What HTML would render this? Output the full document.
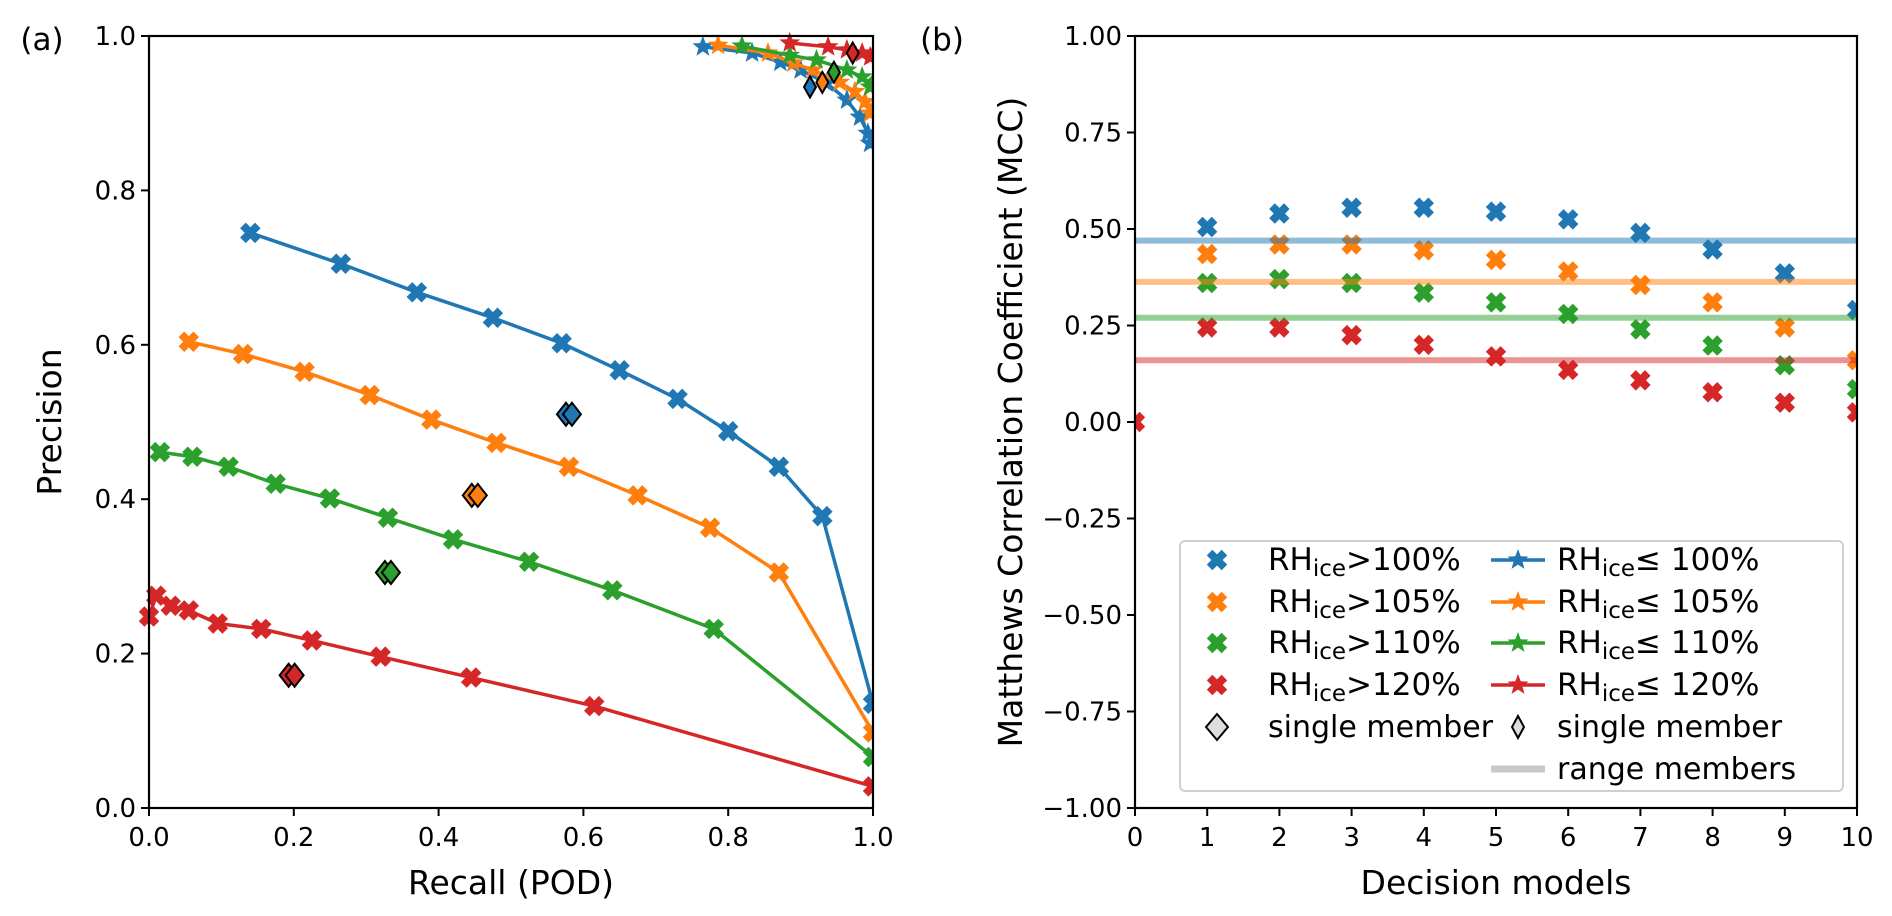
<!DOCTYPE html>
<html><head><meta charset="utf-8"><style>
body{margin:0;background:#fff}
svg{display:block;font-family:"DejaVu Sans","Liberation Sans",sans-serif}
</style></head><body>
<svg id="fig" width="1892" height="916" viewBox="0 0 1892 916" xmlns="http://www.w3.org/2000/svg">
<g id="pa"></g>
<g id="pb"></g>
</svg>
<script>
// ---------- Panel (a) data ----------
const colors = ['#1f77b4','#ff7f0e','#2ca02c','#d62728'];
const seriesNames = ['rh100','rh105','rh110','rh120'];
const recallBlue   = [0.14,0.265,0.37,0.475,0.57,0.65,0.73,0.80,0.87,0.93,1.0];
const precBlue     = [0.745,0.705,0.668,0.635,0.602,0.567,0.53,0.488,0.442,0.378,0.135];
const recallOrange = [0.055,0.13,0.215,0.305,0.39,0.48,0.58,0.675,0.775,0.87,1.0];
const precOrange   = [0.604,0.588,0.565,0.535,0.503,0.473,0.442,0.405,0.363,0.305,0.098];
const recallGreen  = [0.015,0.06,0.11,0.175,0.25,0.33,0.42,0.525,0.64,0.78,1.0];
const precGreen    = [0.461,0.455,0.442,0.42,0.401,0.376,0.348,0.319,0.282,0.232,0.066];
const recallRed    = [0.0,0.01,0.03,0.055,0.095,0.155,0.225,0.32,0.445,0.615,1.0];
const precRed      = [0.248,0.275,0.262,0.256,0.239,0.232,0.217,0.196,0.169,0.132,0.028];
const singleRecall = [0.58,0.45,0.33,0.197];
const singlePrec   = [0.51,0.405,0.305,0.172];
const starRecallBlue   = [0.765,0.833,0.872,0.90,0.936,0.964,0.982,0.993,0.996,1.0];
const starPrecBlue     = [0.986,0.978,0.966,0.956,0.939,0.917,0.895,0.874,0.861,0.87];
const starRecallOrange = [0.786,0.855,0.89,0.917,0.954,0.975,0.989,0.996,1.0];
const starPrecOrange   = [0.988,0.978,0.965,0.956,0.94,0.928,0.915,0.9,0.905];
const starRecallGreen  = [0.819,0.885,0.922,0.964,0.985,0.996,1.0];
const starPrecGreen    = [0.987,0.975,0.969,0.956,0.947,0.934,0.94];
const starRecallRed    = [0.885,0.938,0.964,0.985,0.996,1.0];
const starPrecRed      = [0.991,0.986,0.982,0.978,0.973,0.975];
const memberRecall = [0.913,0.93,0.946,0.972];
const memberPrec   = [0.934,0.94,0.953,0.978];
const aTicks = [0,0.2,0.4,0.6,0.8,1.0];
const aTickLabels = ['0.0','0.2','0.4','0.6','0.8','1.0'];
// ---------- Panel (b) data ----------
const models = [1,2,3,4,5,6,7,8,9,10];
const mccBlue   = [0.505,0.54,0.555,0.555,0.545,0.525,0.49,0.447,0.385,0.29];
const mccOrange = [0.435,0.46,0.46,0.445,0.42,0.39,0.355,0.31,0.245,0.16];
const mccGreen  = [0.36,0.37,0.36,0.335,0.31,0.28,0.24,0.198,0.147,0.085];
const mccRed    = [0.245,0.245,0.225,0.2,0.17,0.135,0.108,0.077,0.05,0.025];
const mccZero   = [0.0];
const rangeLevels = [0.47,0.363,0.27,0.16];
const bYTicks = [1,0.75,0.5,0.25,0,-0.25,-0.5,-0.75,-1];
const bYTickLabels = ['1.00','0.75','0.50','0.25','0.00','\u22120.25','\u22120.50','\u22120.75','\u22121.00'];
const bXTicks = [0,1,2,3,4,5,6,7,8,9,10];

const NS='http://www.w3.org/2000/svg';
function mk(parent,tag,attrs){const e=document.createElementNS(NS,tag);for(const k in attrs)e.setAttribute(k,attrs[k]);parent.appendChild(e);return e;}

const A={x0:149,x1:873,y0:808,y1:36};
const ax=v=>A.x0+v*(A.x1-A.x0);
const ay=v=>A.y0-v*(A.y0-A.y1);
const B={x0:1135,x1:1857,y0:808,y1:36};
const bx=v=>B.x0+v/10*(B.x1-B.x0);
const by=v=>B.y0-(v+1)/2*(B.y0-B.y1);

function crossPath(cx,cy,s){const d=s/2,w=s*0.19;
 const base=[[-w,-d],[w,-d],[w,-w],[d,-w],[d,w],[w,w],[w,d],[-w,d],[-w,w],[-d,w],[-d,-w],[-w,-w]];
 const c=Math.SQRT1_2;
 return 'M'+base.map(([x,y])=>[(x-y)*c+cx,(x+y)*c+cy].map(n=>n.toFixed(1)).join(',')).join('L')+'Z';}
function starPath(cx,cy,r){let s='';for(let i=0;i<10;i++){const rr=i%2?r*0.42:r;const t=-Math.PI/2+i*Math.PI/5;s+=(i?'L':'M')+(cx+rr*Math.cos(t)).toFixed(1)+','+(cy+rr*Math.sin(t)).toFixed(1);}return s+'Z';}
function diamond(cx,cy,w,h){return `M${cx},${cy-h/2}L${cx+w/2},${cy}L${cx},${cy+h/2}L${cx-w/2},${cy}Z`;}

function axesFrame(g,F,name){
 const r=mk(g,'rect',{x:F.x0,y:F.y1,width:F.x1-F.x0,height:F.y0-F.y1,fill:'none',stroke:'#000','stroke-width':2.2});
 
 
}
function txt(g,x,y,s,size,anchor,name,extra){const t=mk(g,'text',Object.assign({x:x,y:y,'font-size':size,'text-anchor':anchor||'middle',fill:'#000'},extra||{}));t.textContent=s;
 
 return t;}

// ---------- Panel (a) ----------
const pa=document.getElementById('pa');
const aRec=[recallBlue,recallOrange,recallGreen,recallRed];
const aPre=[precBlue,precOrange,precGreen,precRed];
const sRec=[starRecallBlue,starRecallOrange,starRecallGreen,starRecallRed];
const sPre=[starPrecBlue,starPrecOrange,starPrecGreen,starPrecRed];
const clipA=mk(pa,'clipPath',{id:'clipA'});mk(clipA,'rect',{x:A.x0-12,y:A.y1-12,width:A.x1-A.x0+13,height:A.y0-A.y1+24});
const plotA=mk(pa,'g',{'clip-path':'url(#clipA)'});
for(let s=0;s<4;s++){
 const gs=mk(plotA,'g',{});
 
 
 mk(gs,'polyline',{points:aRec[s].map((v,i)=>ax(v)+','+ay(aPre[s][i])).join(' '),fill:'none',stroke:colors[s],'stroke-width':3.5});
 aRec[s].forEach((v,i)=>{const m=mk(gs,'path',{d:crossPath(ax(v),ay(aPre[s][i]),21),fill:colors[s]});
  
  });
}
for(let s=0;s<4;s++){
 const gs=mk(plotA,'g',{});
 
 
 mk(gs,'polyline',{points:sRec[s].map((v,i)=>ax(v)+','+ay(sPre[s][i])).join(' '),fill:'none',stroke:colors[s],'stroke-width':3.5});
 sRec[s].forEach((v,i)=>{const m=mk(gs,'path',{d:starPath(ax(v),ay(sPre[s][i]),11),fill:colors[s]});
  
  });
}
for(let s=0;s<4;s++){
 [-3,3].forEach(o=>{const m=mk(plotA,'path',{d:diamond(ax(singleRecall[s])+o,ay(singlePrec[s]),18,23),fill:colors[s],stroke:'#000','stroke-width':2});
  
  });
 const m2=mk(plotA,'path',{d:diamond(ax(memberRecall[s]),ay(memberPrec[s]),12,21),fill:colors[s],stroke:'#000','stroke-width':2});
 
 
}
axesFrame(pa,A,'panel-a');
aTicks.forEach((v,i)=>{
 mk(pa,'line',{x1:ax(v),x2:ax(v),y1:A.y0,y2:A.y0+8,stroke:'#000','stroke-width':2});
 txt(pa,ax(v),A.y0+38,aTickLabels[i],26,'middle','x-tick-label');
 mk(pa,'line',{x1:A.x0-8,x2:A.x0,y1:ay(v),y2:ay(v),stroke:'#000','stroke-width':2});
 txt(pa,A.x0-13,ay(v)+9,aTickLabels[i],26,'end','y-tick-label');
});
txt(pa,511,894,'Recall (POD)',33,'middle','x-axis-title');
txt(pa,61,422,'Precision',33,'middle','y-axis-title',{transform:'rotate(-90 61 422)'});
txt(pa,42,50,'(a)',31,'middle','panel-a-label');

// ---------- Panel (b) ----------
const pb=document.getElementById('pb');
const mccs=[mccBlue,mccOrange,mccGreen,mccRed];
const clipB=mk(pb,'clipPath',{id:'clipB'});mk(clipB,'rect',{x:B.x0,y:B.y1,width:B.x1-B.x0,height:B.y0-B.y1});
const plotB=mk(pb,'g',{'clip-path':'url(#clipB)'});
mccZero.forEach(v=>{const m=mk(plotB,'path',{d:crossPath(bx(0),by(v),21),fill:colors[3]});
 
 });
for(let s=0;s<4;s++){
 models.forEach((v,i)=>{const m=mk(plotB,'path',{d:crossPath(bx(v),by(mccs[s][i]),21),fill:colors[s]});
  
  });
}
for(let s=0;s<4;s++){
 const l=mk(plotB,'line',{x1:B.x0,x2:B.x1,y1:by(rangeLevels[s]),y2:by(rangeLevels[s]),stroke:colors[s],'stroke-width':6,'stroke-opacity':0.5});
 
 
}
axesFrame(pb,B,'panel-b');
bYTicks.forEach((v,i)=>{
 mk(pb,'line',{x1:B.x0-8,x2:B.x0,y1:by(v),y2:by(v),stroke:'#000','stroke-width':2});
 txt(pb,B.x0-13,by(v)+9,bYTickLabels[i],26,'end','y-tick-label');
});
bXTicks.forEach(v=>{
 mk(pb,'line',{x1:bx(v),x2:bx(v),y1:B.y0,y2:B.y0+8,stroke:'#000','stroke-width':2});
 txt(pb,bx(v),B.y0+38,String(v),26,'middle','x-tick-label');
});
txt(pb,1496,894,'Decision models',33,'middle','x-axis-title');
txt(pb,1022,422,'Matthews Correlation Coefficient (MCC)',33,'middle','y-axis-title',{transform:'rotate(-90 1022 422)'});
txt(pb,942,50,'(b)',31,'middle','panel-b-label');

// legend
const lg=mk(pb,'g',{});


mk(lg,'rect',{x:1180,y:541,width:663,height:250,rx:5,fill:'#fff','fill-opacity':0.85,stroke:'#d0d0d0','stroke-width':2});
const rowY=[560,602,643,685,727,769];
const pcts=['100%','105%','110%','120%'];
function rhLabel(x,y,op,p){const t=mk(lg,'text',{x:x,y:y+10,'font-size':31,fill:'#000'});
 const a=mk(t,'tspan',{});a.textContent='RH';
 const b=mk(t,'tspan',{'font-size':23,dy:6});b.textContent='ice';
 const c=mk(t,'tspan',{dy:-6});c.textContent=op+p;
 
 }
for(let s=0;s<4;s++){
 const m=mk(lg,'path',{d:crossPath(1217,rowY[s],21),fill:colors[s]});
 
 
 rhLabel(1268,rowY[s],'>',pcts[s]);
 const l=mk(lg,'line',{x1:1491,x2:1545,y1:rowY[s],y2:rowY[s],stroke:colors[s],'stroke-width':3.5});
 
 
 mk(lg,'path',{d:starPath(1518,rowY[s],11),fill:colors[s]});
 rhLabel(1557,rowY[s],'\u2264 ',pcts[s]);
}
mk(lg,'path',{d:diamond(1217,rowY[4],22,26),fill:'#ddd',stroke:'#000','stroke-width':2});
txt(lg,1268,rowY[4]+10,'single member',30,'start','legend-label');
mk(lg,'path',{d:diamond(1518,rowY[4],12,22),fill:'#ddd',stroke:'#000','stroke-width':2});
txt(lg,1557,rowY[4]+10,'single member',30,'start','legend-label');
const rl=mk(lg,'line',{x1:1491,x2:1545,y1:rowY[5],y2:rowY[5],stroke:'#c8c8c8','stroke-width':7});


txt(lg,1557,rowY[5]+10,'range members',30,'start','legend-label');
</script>
</body></html>
